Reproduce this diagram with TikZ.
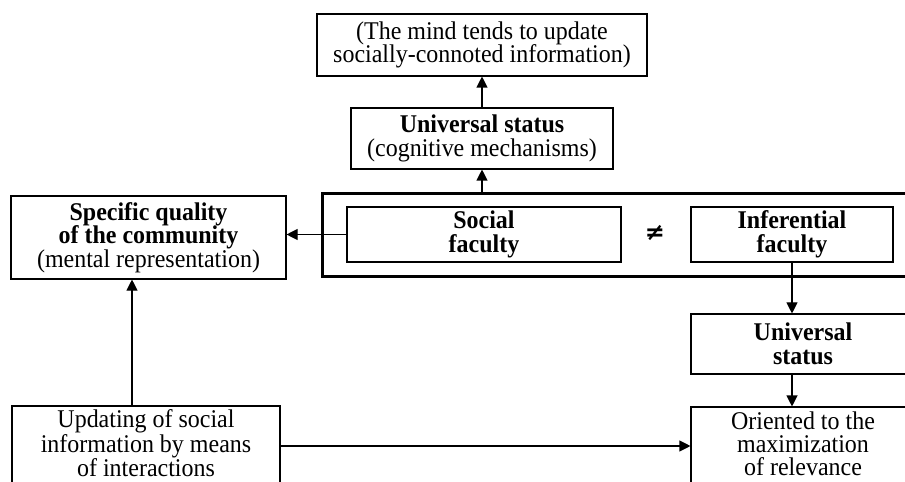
\documentclass[tikz,border=0pt]{standalone}
\usepackage{fontspec}
\setmainfont[FakeStretch=0.94]{Liberation Serif}
\newfontfamily\symfont{DejaVu Sans}
\usetikzlibrary{arrows.meta}
\begin{document}
\begin{tikzpicture}[x=1bp,y=-1bp,
  txt/.style={align=center, inner sep=0pt,
    font=\fontsize{25.5bp}{23.5bp}\selectfont},
  box/.style={txt, draw, line width=1.1bp},
  arr/.style={line width=1.1bp, -{Triangle[length=11bp,width=11bp]}},
  frame/.style={draw, line width=3bp, inner sep=0pt}]
\useasboundingbox (0,0) rectangle (905,482);
\clip (0,0) rectangle (905,482);

% top chain
\node[box, minimum width=330bp, minimum height=62bp] (mind) at (482,45)
  {(The mind tends to update\\socially-connoted information)};
\node[box, minimum width=262bp, minimum height=61bp] (univ) at (482,138.5)
  {\textbf{Universal status}\\(cognitive mechanisms)};

% the two faculties
\node[frame, minimum width=598bp, minimum height=83bp] (pair) at (621,235.5) {};
\node[box, minimum width=274bp, minimum height=55bp] (social) at (484,234.5)
  {\textbf{Social}\\\textbf{faculty}};
\node[font=\symfont\bfseries\fontsize{24bp}{24bp}\selectfont, inner sep=0pt] (neq) at (655,233) {≠};
\node[box, minimum width=202bp, minimum height=55bp] (infer) at (792,234.5)
  {\textbf{Inferential}\\\textbf{faculty}};

% left column
\node[box, minimum width=275bp, minimum height=83bp] (spec) at (148.5,237.5)
  {\textbf{Specific quality}\\\textbf{of the community}\\(mental representation)};
\node[box, minimum width=268bp, minimum height=80bp] (upd) at (146,446) {};
\node[txt, font=\fontsize{25.5bp}{23bp}\selectfont] (updtext) at (146,443.5)
  {Updating of social\\information by means\\of interactions};

% right column
\node[box, minimum width=224bp, minimum height=60bp] (univ2) at (803,344)
  {\textbf{Universal}\\\textbf{status}};
\node[box, minimum width=224bp, minimum height=80bp] (orient) at (803,447) {};
\node[txt, font=\fontsize{25.5bp}{23bp}\selectfont] (orienttext) at (803,443.5)
  {Oriented to the\\maximization\\of relevance};

% connectors
\draw[arr] (univ.south |- pair.north) -- (univ.south);
\draw[arr] (univ.north) -- (mind.south);
\draw[arr] (social.west) -- (social.west -| spec.east);
\draw[arr] (infer.south) -- (infer.south |- univ2.north);
\draw[arr] (infer.south |- univ2.south) -- (infer.south |- orient.north);
\draw[arr] (upd.east) -- (upd.east -| orient.west);
\draw[arr] ([xshift=-14bp]upd.north) -- ([xshift=-14bp]upd.north |- spec.south);
\end{tikzpicture}
\end{document}
